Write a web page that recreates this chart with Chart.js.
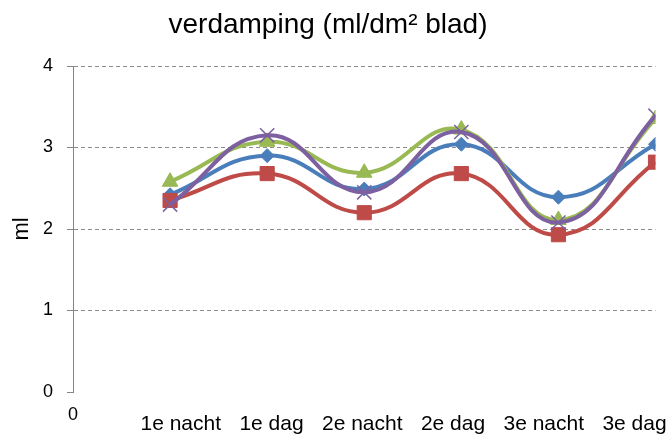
<!DOCTYPE html>
<html>
<head>
<meta charset="utf-8">
<script src="https://cdn.jsdelivr.net/npm/chart.js@4/dist/chart.umd.min.js"></script>
<style>
  html, body { margin: 0; padding: 0; background: #fff; overflow: hidden; }
  #wrap { width: 667px; height: 434px; }
</style>
</head>
<body>
<div id="wrap"><canvas id="c" width="667" height="434"></canvas></div>
<script>
// dagdelen op de x-as (positie 1..6, 0 = lege start)
var dagdelen = ["0", "1e nacht", "1e dag", "2e nacht", "2e dag", "3e nacht", "3e dag"];
var posities = [1, 2, 3, 4, 5, 6];

// verdamping per plant (ml)
var plant1 = [2.42, 2.90, 2.49, 3.04, 2.39, 3.04];
var plant2 = [2.35, 2.68, 2.20, 2.68, 1.93, 2.82];
var plant3 = [2.58, 3.07, 2.69, 3.22, 2.11, 3.35];
var plant4 = [2.30, 3.15, 2.45, 3.19, 2.08, 3.39];

var yTicks = [0, 1, 2, 3, 4];

function punten(vals) {
  return vals.map(function (v, i) { return { x: posities[i], y: v }; });
}

function reeks(vals, kleur, vorm, r, volgorde) {
  return {
    data: punten(vals),
    borderColor: kleur,
    backgroundColor: kleur,
    borderWidth: 4,
    tension: 0.45,
    pointStyle: vorm,
    pointRadius: r,
    pointHoverRadius: r,
    pointBorderColor: kleur,
    pointBackgroundColor: kleur,
    pointBorderWidth: vorm === 'crossRot' ? 1.5 : 1,
    order: volgorde
  };
}

// labelas: namen staan iets dichter op elkaar dan de streepjes (zoals Excel het tekende)
var labelMin = -0.187, labelMax = 6.231;

var ctx = document.getElementById("c");
var grafiek = new Chart(ctx, {
  type: 'line',
  data: {
    datasets: [
      reeks(plant1, '#4A7EBB', 'rectRot', 7, 3),
      reeks(plant2, '#BE4B48', 'rect', 10, 2),
      reeks(plant3, '#98B954', 'triangle', 9, 1),
      reeks(plant4, '#7D60A0', 'crossRot', 10, 0)
    ]
  },
  options: {
    responsive: false,
    animation: false,
    layout: { padding: { left: 0, right: 11, top: 0, bottom: 0 } },
    plugins: {
      legend: { display: false },
      tooltip: { enabled: false },
      title: {
        display: true,
        text: 'verdamping (ml/dm\u00B2 blad)',
        color: '#000',
        font: { family: 'Liberation Sans', size: 28, weight: 'normal', lineHeight: 1.2 },
        padding: { top: 8, bottom: 24.4 }
      }
    },
    scales: {
      x: {
        type: 'linear',
        min: 0,
        max: 6,
        weight: 1,
        afterFit: function (s) { s.height = 0; s.paddingLeft = 0; s.paddingRight = 0; },
        afterBuildTicks: function (s) {
          s.ticks = dagdelen.map(function (d, i) { return { value: i }; });
        },
        grid: {
          drawOnChartArea: false,
          drawTicks: true,
          tickLength: 5,
          tickColor: '#868686'
        },
        border: { display: true, color: '#868686', width: 1 },
        ticks: { display: false }
      },
      xl: {
        type: 'linear',
        position: 'bottom',
        min: labelMin,
        max: labelMax,
        weight: 0,
        afterFit: function (s) { s.height = 42; s.paddingLeft = 0; s.paddingRight = 0; },
        afterBuildTicks: function (s) {
          s.ticks = [{ value: labelMin }].concat(posities.map(function (p) { return { value: p }; }));
        },
        grid: { display: false, drawTicks: false },
        border: { display: false },
        ticks: {
          color: '#000',
          padding: 12,
          maxRotation: 0,
          autoSkip: false,
          font: function (c) {
            if (c.index === 0) {
              return { family: 'Liberation Sans', size: 18, lineHeight: 1.2 };
            }
            return { family: 'Liberation Sans', size: 21, lineHeight: 1.95 };
          },
          callback: function (v, i) { return dagdelen[i]; }
        }
      },
      y: {
        min: 0,
        max: 4,
        afterFit: function (s) { s.width = 73; s.paddingTop = 0; s.paddingBottom = 0; },
        afterBuildTicks: function (s) {
          s.ticks = yTicks.map(function (v) { return { value: v }; });
        },
        grid: {
          color: function (c) { return c.tick && c.tick.value === 0 ? 'rgba(0,0,0,0)' : '#8c8c8c'; },
          lineWidth: 1,
          drawTicks: true,
          tickLength: 6,
          tickColor: '#868686',
          tickBorderDash: []
        },
        border: { display: true, color: '#868686', width: 1, dash: [4, 3] },
        ticks: {
          color: '#000',
          padding: 14,
          font: { family: 'Liberation Sans', size: 18 }
        },
        title: {
          display: true,
          text: 'ml',
          color: '#000',
          font: { family: 'Liberation Sans', size: 22, lineHeight: 1.2 },
          padding: { top: 9, bottom: 0 }
        }
      }
    }
  }
});
</script>
</body>
</html>
